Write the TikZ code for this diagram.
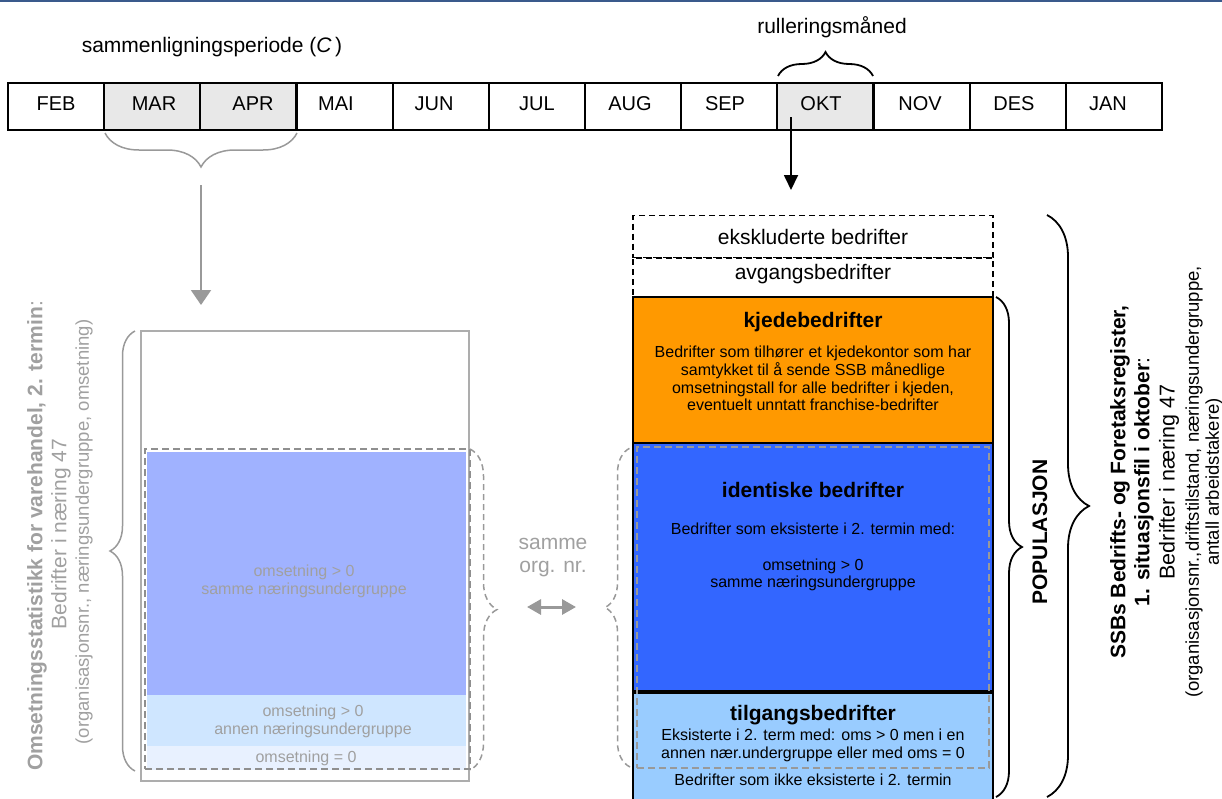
\documentclass[tikz,border=0pt]{standalone}
\usepackage{fontspec}
\setmainfont{Liberation Sans}
\usetikzlibrary{decorations.pathreplacing,arrows.meta}
\newcommand\fsz[2]{\fontsize{#1}{#2}\selectfont}
\definecolor{topblue}{RGB}{58,90,140}
\definecolor{cellgray}{RGB}{232,232,232}
\definecolor{lgray}{RGB}{153,153,153}
\definecolor{tgray}{RGB}{160,160,160}
\definecolor{kjede}{RGB}{255,153,0}
\definecolor{ident}{RGB}{51,102,255}
\definecolor{tilg}{RGB}{153,204,255}
\definecolor{hatchblue}{RGB}{160,178,255}
\definecolor{lightb}{RGB}{207,230,255}
\definecolor{lightestb}{RGB}{232,241,255}
\begin{document}
\begin{tikzpicture}[x=1pt,y=-1pt,
  cell/.style={draw=black,line width=2pt,minimum width=96.17pt,minimum height=47pt,inner sep=0pt,outer sep=0pt},
  mlab/.style={font=\fsz{20}{24},inner sep=0pt},
  lab/.style={font=\fsz{21}{25},inner sep=0pt},
  body/.style={font=\fsz{16}{17.6},inner sep=0pt,align=center},
  ttl/.style={font=\fsz{21}{25}\bfseries,inner sep=0pt},
  box/.style={draw=black,line width=2pt,inner sep=0pt,outer sep=0pt,minimum width=360pt},
  dbox/.style={draw=black,line width=1.8pt,dash pattern=on 6pt off 4pt,inner sep=0pt,outer sep=0pt,minimum width=360pt},
  bbrace/.style={draw=black,line width=1.8pt,decorate,decoration={brace,amplitude=#1}},
  gbrace/.style={draw=lgray,line width=1.5pt,decorate,decoration={brace,amplitude=#1}},
  dgbrace/.style={draw=lgray,line width=1.5pt,dash pattern=on 6pt off 4pt,decorate,decoration={brace,amplitude=#1}},
  gtxt/.style={text=tgray,inner sep=0pt,font=\fsz{16}{18},align=center},
  rot/.style={rotate=90,inner sep=0pt},
]
\useasboundingbox (0,0) rectangle (1222,798);
\clip (0,0) rectangle (1222,798);
\fill[topblue] (0,0) rectangle (1222,2);

% month bar
\node[cell] (feb) at (56.1,106.5) {};
\node[cell,fill=cellgray] (mar) at (152.3,106.5) {};
\node[cell,fill=cellgray] (apr) at (248.4,106.5) {};
\node[cell] (mai) at (344.6,106.5) {};
\node[cell] (jun) at (440.8,106.5) {};
\node[cell] (jul) at (536.9,106.5) {};
\node[cell] (aug) at (633.1,106.5) {};
\node[cell] (sep) at (729.3,106.5) {};
\node[cell,fill=cellgray] (okt) at (825.4,106.5) {};
\node[cell] (nov) at (921.6,106.5) {};
\node[cell] (des) at (1017.8,106.5) {};
\node[cell] (jan) at (1113.9,106.5) {};
\node[mlab] (lfeb) at (56,104) {FEB};
\node[mlab] (lmar) at (154,104) {MAR};
\node[mlab] (lapr) at (253,104) {APR};
\node[mlab] (lmai) at (336,104) {MAI};
\node[mlab] (ljun) at (434,104) {JUN};
\node[mlab] (ljul) at (537,104) {JUL};
\node[mlab] (laug) at (630,104) {AUG};
\node[mlab] (lsep) at (725,104) {SEP};
\node[mlab] (lokt) at (821,104) {OKT};
\node[mlab] (lnov) at (920,104) {NOV};
\node[mlab] (ldes) at (1014,104) {DES};
\node[mlab] (ljan) at (1108,104) {JAN};

\node[lab] (sammenl) at (212,47) {sammenligningsperiode (\textit{C}\,)};
\node[lab] (rull) at (832,27) {rulleringsmåned};

% braces at the month bar
\draw[bbrace=24pt] (778,76) -- (873,76);
\draw[gbrace=34pt] (297,133) -- (105,133);

% arrows
\coordinate (gA) at (201,185);
\coordinate (gB) at (201,305);
\draw[draw=lgray,line width=2pt,-{Triangle[length=15pt,width=20pt]}] (gA) -- (gB);
\coordinate (kA) at (791,117);
\coordinate (kB) at (791,190);
\draw[draw=black,line width=1.8pt,-{Triangle[length=15pt,width=14pt]}] (kA) -- (kB);

% left block
\node[draw=lgray!80,line width=1.5pt,minimum width=328pt,minimum height=450pt,inner sep=0pt] (stat) at (305,556) {};
\fill[hatchblue] (147,452) rectangle (466,695);
\fill[lightb] (147,695) rectangle (466,746);
\fill[lightestb] (147,746) rectangle (466,770);
\node[draw=lgray!110,line width=1.8pt,dash pattern=on 7pt off 4pt,minimum width=325pt,minimum height=320pt,inner sep=0pt] (statd) at (307.5,609) {};
\node[gtxt] (t1) at (304,581) {omsetning > 0\\samme næringsundergruppe};
\node[gtxt] (t2) at (313,721) {omsetning > 0\\annen næringsundergruppe};
\node[gtxt] (t3) at (306,758) {omsetning = 0};
\draw[gbrace=25pt] (135,771) -- (135,331);
\draw[dgbrace=27pt] (470,449) -- (470,770);

\node[rot,text=tgray,font=\fsz{21}{25}] (ol1) at (37,536) {{\bfseries Omsetningsstatistikk for varehandel, 2. termin}:};
\node[rot,text=tgray,font=\fsz{21}{25}] (ol2) at (61,534) {Bedrifter i næring 47};
\node[rot,text=tgray,font=\fsz{18.5}{22}] (ol3) at (84,532) {(organisasjonsnr., næringsundergruppe, omsetning)};

% middle
\node[text=tgray,font=\fsz{21}{23},align=center,inner sep=0pt] (same) at (553,558) {samme\\org. nr.};
\coordinate (dA) at (527,607);
\coordinate (dB) at (576,607);
\draw[draw=lgray,line width=3pt,{Triangle[length=14pt,width=15pt]}-{Triangle[length=14pt,width=15pt]}] (dA) -- (dB);
\draw[dgbrace=25pt] (630,767) -- (630,448);

% right block
\node[dbox,minimum height=42pt] (ekskl) at (813,236.5) {};
\node[dbox,minimum height=39pt] (avg) at (813,277.5) {};
\node[lab] (lekskl) at (813,237) {ekskluderte bedrifter};
\node[lab] (lavg) at (813,274) {avgangsbedrifter};
\node[box,fill=kjede,minimum height=146pt] (kj) at (813,370) {};
\node[box,fill=ident,minimum height=249pt] (id) at (813,567.5) {};
\node[box,fill=tilg,minimum height=112pt] (tg) at (813,748) {};
\draw[line width=3.5pt] (id.south west) -- (id.south east);
\node[draw=lgray,line width=1.8pt,dash pattern=on 7pt off 4pt,minimum width=352pt,minimum height=321pt,inner sep=0pt] (idd) at (813,607.5) {};

\node[ttl] (tkj) at (813,322) {kjedebedrifter};
\node[body] (bkj) at (813,378.5) {Bedrifter som tilhører et kjedekontor som har\\samtykket til å sende SSB månedlige\\omsetningstall for alle bedrifter i kjeden,\\eventuelt unntatt franchise-bedrifter};
\node[ttl] (tid) at (813,490) {identiske bedrifter};
\node[body] (bid) at (813,529) {Bedrifter som eksisterte i 2. termin med:};
\node[body] (bid2) at (813,575) {omsetning > 0\\samme næringsundergruppe};
\node[ttl] (ttg) at (813,715) {tilgangsbedrifter};
\node[body] (btg) at (813,745.5) {Eksisterte i 2. term med: oms > 0 men i en\\annen nær.undergruppe eller med oms = 0};
\node[body] (btg2) at (813,780) {Bedrifter som ikke eksisterte i 2. termin};

% right braces and texts
\draw[bbrace=26pt] (996,297) -- (996,797);
\draw[bbrace=42pt] (1047,215) -- (1047,797);
\node[rot,font=\fsz{21}{25}\bfseries] (pop) at (1040,532) {POPULASJON};
\node[rot,font=\fsz{21}{25}] (s1) at (1120,482) {\bfseries SSBs Bedrifts- og Foretaksregister,};
\node[rot,font=\fsz{21}{25}] (s2) at (1144,482) {{\bfseries 1. situasjonsfil i oktober}:};
\node[rot,font=\fsz{21.5}{25}] (s3) at (1169,482) {Bedrifter i næring 47};
\node[rot,font=\fsz{18.5}{22}] (s4) at (1194,482) {(organisasjonsnr.,driftstilstand, næringsundergruppe,};
\node[rot,font=\fsz{18.5}{22}] (s5) at (1214,482) {antall arbeidstakere)};
\end{tikzpicture}
\end{document}
